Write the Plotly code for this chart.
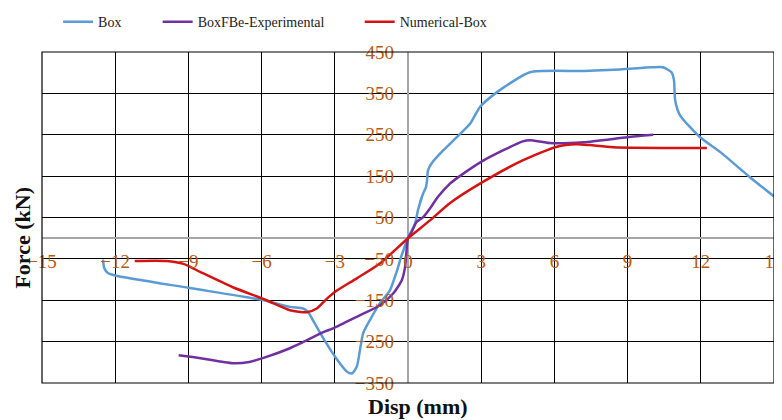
import plotly.graph_objects as go

# ---- data ----
box_x = [-12.5, -12.45, -12.3, -12.0, -9.0, -6.0, -4.84, -4.3, -4.1, -3.9, -3.47, -2.9, -2.5, -2.3,
         -2.1, -1.97, -1.84, -1.56, -1.15, -0.74, -0.46, -0.26, 0.0, 0.29, 0.41, 0.49, 0.55, 0.5,
         0.62, 0.74, 0.78, 0.82, 0.97, 1.44, 2.0, 2.55, 2.95, 3.65, 5.0, 7.2, 8.69, 10.0, 10.45,
         10.8, 10.9, 10.95, 11.15, 11.97, 12.8, 14.0, 15.0]
box_y = [-52, -72, -84, -90, -120, -149, -166, -170, -178, -198, -242, -294, -323, -327,
         -311, -271, -230, -198, -157, -126, -80, -41, 0, 36, 68, 84, 95, 88,
         108, 124, 140, 164, 181, 212, 244, 277, 317, 353, 401, 404, 408, 413, 413,
         401, 382, 333, 297, 244, 208, 148, 101]

exp_x = [-9.4, -8.5, -7.2, -6.5, -5.8, -4.84, -4.4, -3.47, -3.07, -2.1, -1.15, -0.6, -0.25, -0.12,
         0.0, 0.15, 0.35, 0.62, 0.9, 1.23, 1.72, 2.05, 3.1, 4.7, 5.0, 5.8, 7.2, 8.98, 10.05]
exp_y = [-283, -290, -302, -299, -287, -266, -254, -227, -218, -190, -162, -133, -101, -70,
         0, 15, 39, 51, 72, 100, 132, 147, 188, 234, 237, 230, 232, 244, 250]

num_x = [-11.2, -9.9, -9.2, -8.5, -7.2, -5.8, -4.84, -4.15, -3.74, -3.3, -3.0, -2.1, -1.15, 0.0,
         0.9, 1.7, 3.07, 4.7, 6.1, 6.9, 7.45, 8.4, 12.25]
num_y = [-55, -55, -62, -82, -118, -150, -174, -179, -170, -145, -130, -97, -61, 0,
         43, 84, 136, 188, 221, 227, 225, 220, 218]

names = ["Box", "BoxFBe-Experimental", "Numerical-Box"]
colors = ["#5B9BD5", "#7030A0", "#D41414"]

x_range = [-15, 15]
y_range = [-350, 450]
x_dtick = 3
y_dtick = 100
y_tick0 = 50

tick_color = "#B65A12"
font_family = "Liberation Serif"

fig = go.Figure()
series = [(box_x, box_y), (exp_x, exp_y), (num_x, num_y)]
legend_ids = ["legend", "legend2", "legend3"]
for (xs, ys), nm, col, lg in zip(series, names, colors, legend_ids):
    fig.add_trace(go.Scatter(x=xs, y=ys, mode="lines", name=nm,
                             line=dict(color=col, width=2.5, shape="spline", smoothing=0.6),
                             legend=lg))

leg_common = dict(orientation="h", yanchor="middle", y=1.09, xanchor="left",
                  font=dict(family=font_family, size=14, color="#222222"),
                  bgcolor="rgba(0,0,0,0)", borderwidth=0, itemwidth=30)

# the page body adds an 8px offset, so the figure is drawn 8px smaller
fig.update_layout(
    width=774, height=412,
    margin=dict(l=34, r=8, t=44, b=37, autoexpand=False),
    paper_bgcolor="white", plot_bgcolor="white",
    showlegend=True,
    legend=dict(x=0.022, **leg_common),
    legend2=dict(x=0.158, **leg_common),
    legend3=dict(x=0.434, **leg_common),
    xaxis=dict(range=x_range, dtick=x_dtick, tick0=0, showgrid=True, gridcolor="black",
               gridwidth=1, zeroline=True, zerolinecolor="#A6A6A6", zerolinewidth=1.5,
               anchor="free", position=0.408, ticks="", showline=False, automargin=False,
               ticklabeloverflow="allow",
               tickfont=dict(family=font_family, size=19, color=tick_color)),
    yaxis=dict(range=y_range, dtick=y_dtick, tick0=y_tick0, showgrid=True, gridcolor="black",
               gridwidth=1, zeroline=True, zerolinecolor="#A6A6A6", zerolinewidth=1.5,
               anchor="free", position=0.5, ticks="", showline=False, automargin=False,
               ticklabelstandoff=14, ticklabeloverflow="allow",
               tickfont=dict(family=font_family, size=19, color=tick_color)),
    shapes=[dict(type="rect", xref="paper", yref="paper", x0=0, x1=1, y0=0, y1=1,
                 line=dict(color="black", width=1.2), layer="above")],
    annotations=[
        dict(text="<b>Force (kN)</b>", xref="paper", yref="paper", x=-0.027, y=0.44,
             textangle=-90, showarrow=False, xanchor="center", yanchor="middle",
             font=dict(family=font_family, size=22, color="#111111")),
        dict(text="<b>Disp (mm)</b>", xref="paper", yref="paper", x=0.514, y=-0.072,
             showarrow=False, xanchor="center", yanchor="middle",
             font=dict(family=font_family, size=22, color="#111111")),
    ],
)

fig.write_html("out.html")
